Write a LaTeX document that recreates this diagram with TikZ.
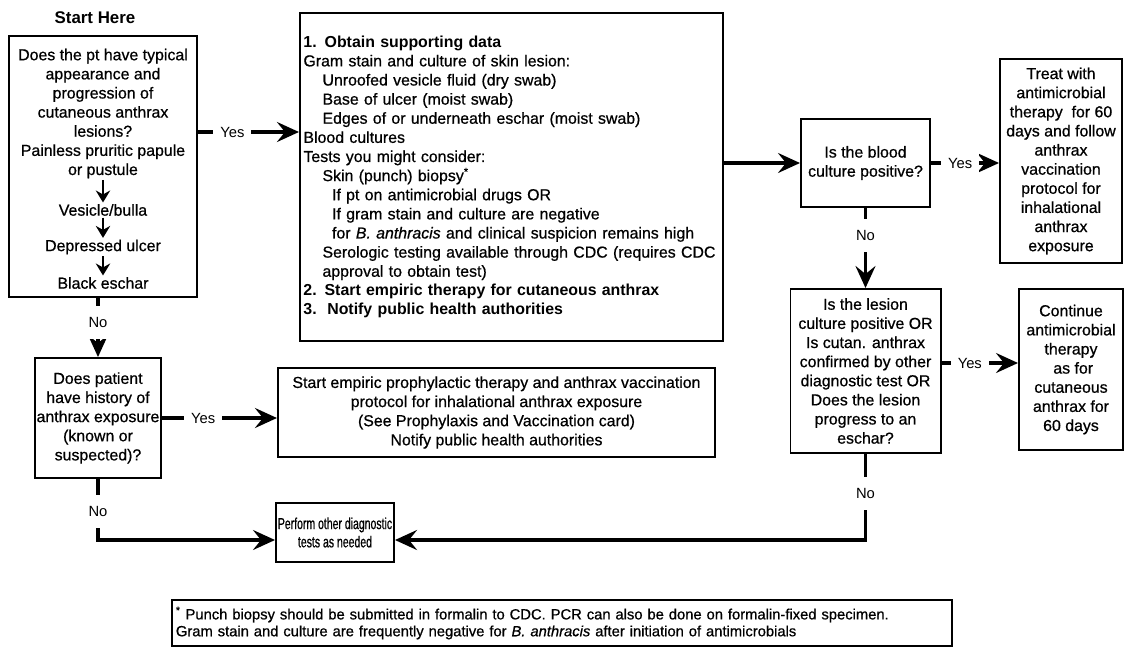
\documentclass[tikz,border=0pt]{standalone}
\usepackage{fontspec}
\setmainfont{Liberation Sans}[UprightFeatures={FakeBold=0.7}, ItalicFeatures={FakeBold=0.7}]
\newfontfamily\plainsans{Liberation Sans}
\newfontfamily\narrowsans{Liberation Sans}[FakeStretch=0.66, FakeBold=0.7]
\usetikzlibrary{arrows.meta,positioning,calc}
\tikzset{
  qbox/.style={draw=black, line width=1.4pt, align=center, inner sep=1pt, font=\fontsize{11.3}{13.6}\selectfont},
  qtext/.style={align=center, inner sep=1pt, font=\fontsize{11.3}{13.6}\selectfont},
  headtext/.style={inner sep=1pt, font=\fontsize{12}{14}\selectfont\bfseries},
  notebox/.style={draw=black, line width=1.4pt, align=left, inner sep=2pt, font=\fontsize{10.5}{12}\selectfont},
  lab/.style={fill=white, inner xsep=5pt, inner ysep=8pt, font=\fontsize{10.5}{12}\plainsans},
  conn/.style={-{Stealth[length=5.5mm,width=5mm,inset=2mm]}, line width=2.2pt},
  steparr/.style={-{Stealth[length=3mm,width=3.6mm,inset=1mm]}, line width=2pt}
}
\begin{document}
\begin{tikzpicture}[x=0.025cm, y=-0.025cm]
  \useasboundingbox (0,0) rectangle (1130,658);
  \coordinate (lowrow) at (0,540);

  % left column
  \node[headtext] (start) at (95,18) {Start Here};
  \node[qbox, minimum width=4.7cm, minimum height=6.525cm] (lesbox) at (103,166.5) {};
  \node[qtext] (lesq) at (103,113.5) {Does the pt have typical\\appearance and\\progression of\\cutaneous anthrax\\lesions?\\Painless pruritic papule\\or pustule};
  \node[qtext] (vesicle) at (103,210) {Vesicle/bulla};
  \node[qtext] (ulcer) at (103,247) {Depressed ulcer};
  \node[qtext] (eschar) at (103,283) {Black eschar};
  \draw[steparr] (lesq) -- (vesicle);
  \draw[steparr] (vesicle) -- (ulcer);
  \draw[steparr] (ulcer) -- (eschar);

  \node[qbox, minimum width=3.1cm, minimum height=3cm] (hist) at (98,418) {Does patient\\have history of\\anthrax exposure\\(known or\\suspected)?};
  \draw[conn] (lesbox.south -| hist) -- node[lab, pos=0.41] {No} (hist);

  % middle column
  \node[qbox, align=left, text width=10.4cm, minimum width=10.575cm, minimum height=8.2cm] (work) at (511.5,177) {%
    \textbf{1. Obtain supporting data}\\
    Gram stain and culture of skin lesion:\\
    \hspace*{1.2em}Unroofed vesicle fluid (dry swab)\\
    \hspace*{1.2em}Base of ulcer (moist swab)\\
    \hspace*{1.2em}Edges of or underneath eschar (moist swab)\\
    Blood cultures\\
    Tests you might consider:\\
    \hspace*{1.2em}Skin (punch) biopsy\textsuperscript{*}\\
    \hspace*{1.8em}If pt on antimicrobial drugs OR\\
    \hspace*{1.8em}If gram stain and culture are negative\\
    \hspace*{1.8em}for \textit{B. anthracis} and clinical suspicion remains high\\
    \hspace*{1.2em}Serologic testing available through CDC (requires CDC\\
    \hspace*{1.2em}approval to obtain test)\\
    \textbf{2. Start empiric therapy for cutaneous anthrax}\\
    \textbf{3.\ \ Notify public health authorities}};
  \draw[conn] (lesbox.east |- 0,132) -- node[lab, pos=0.34] {Yes} (work.west |- 0,132);

  \node[qbox, minimum width=10.925cm, minimum height=2.225cm] (proph) at (496.5,412.5) {Start empiric prophylactic therapy and anthrax vaccination\\protocol for inhalational anthrax exposure\\(See Prophylaxis and Vaccination card)\\Notify public health authorities};
  \draw[conn] (hist.east) -- node[lab, pos=0.36] {Yes} (proph.west |- hist.east);

  \node[qbox, font=\fontsize{11.3}{13}\narrowsans, minimum width=2.95cm, minimum height=1.475cm] (other) at (335,532.5) {Perform other diagnostic\\tests as needed};
  \draw[conn] (hist.south) -- node[lab, pos=0.53] {No} (hist.south |- lowrow) -- (other.west |- lowrow);

  % right columns
  \node[qbox, minimum width=3.225cm, minimum height=2.2cm] (blood) at (865.5,163) {Is the blood\\culture positive?};
  \draw[conn] (work.east |- blood) -- (blood);
  \node[qbox, minimum width=3.05cm, minimum height=5.1cm] (treat) at (1061,161) {Treat with\\antimicrobial\\therapy\ \ for 60\\days and follow\\anthrax\\vaccination\\protocol for\\inhalational\\anthrax\\exposure};
  \draw[conn] (blood.east) -- node[lab, pos=0.43] {Yes} (treat.west |- blood.east);

  \node[qbox, minimum width=3.75cm, minimum height=4.1cm] (lesion) at (865.5,371) {Is the lesion\\culture positive OR\\Is cutan. anthrax\\confirmed by other\\diagnostic test OR\\Does the lesion\\progress to an\\eschar?};
  \draw[conn] (blood) -- node[lab, pos=0.34] {No} (lesion);
  \node[qbox, minimum width=2.6cm, minimum height=4.025cm] (cont) at (1071,369.5) {Continue\\antimicrobial\\therapy\\\ as for\\cutaneous\\anthrax for\\60 days};
  \draw[conn] (lesion.east |- 0,363) -- node[lab, pos=0.37] {Yes} (cont.west |- 0,363);
  \draw[conn] (lesion.south) -- node[lab, pos=0.46] {No} (lesion.south |- lowrow) -- (other.east |- lowrow);

  % footnote
  \node[notebox, text width=19.3cm, minimum width=19.5cm, minimum height=1.15cm] (note) at (562,623) {\textsuperscript{*} Punch biopsy should be submitted in formalin to CDC. PCR can also be done on formalin-fixed specimen.\\Gram stain and culture are frequently negative for \textit{B. anthracis} after initiation of antimicrobials};
\end{tikzpicture}
\end{document}
